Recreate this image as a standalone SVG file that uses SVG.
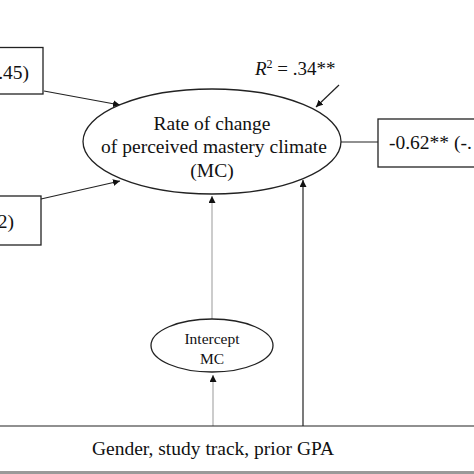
<svg xmlns="http://www.w3.org/2000/svg" width="474" height="474" viewBox="0 0 474 474">
<style>
text{font-family:"Liberation Serif","Times New Roman",serif;fill:#111}
.box{fill:#fff;stroke:#222;stroke-width:1.3}
.ell{fill:#fff;stroke:#222;stroke-width:1.3}
.ln{stroke:#222;stroke-width:1.2;fill:none}
.gl{stroke:#999;stroke-width:1;fill:none}
.big{font-size:19.5px}
</style>
<defs>
<marker id="ah" viewBox="0 0 10 10" refX="10" refY="5" markerWidth="7" markerHeight="7" orient="auto" markerUnits="userSpaceOnUse"><path d="M0,0 L10,5 L0,10 z" fill="#111"/></marker>
</defs>
<rect x="0" y="0" width="474" height="474" fill="#fff"/>
<g id="connectors">
<line class="ln" x1="44" y1="91" x2="120" y2="105" marker-end="url(#ah)"/>
<line class="ln" x1="41" y1="199" x2="120" y2="181" marker-end="url(#ah)"/>
<line class="ln" x1="339" y1="85" x2="316" y2="107" marker-end="url(#ah)"/>
<line class="ln" x1="341" y1="142" x2="378" y2="142"/>
<line class="gl" x1="212" y1="319" x2="212" y2="196" marker-end="url(#ah)"/>
<line class="ln" x1="303" y1="426" x2="303" y2="180" marker-end="url(#ah)"/>
<line class="gl" x1="213" y1="426" x2="213" y2="375" marker-end="url(#ah)"/>
</g>
<g id="box-top-left">
<rect class="box" x="-10" y="47.5" width="53" height="46.5"/>
<text class="big" x="29" y="79" text-anchor="end">.45)</text>
</g>
<g id="box-bottom-left">
<rect class="box" x="-10" y="196" width="51" height="49"/>
<text class="big" x="14" y="228" text-anchor="end">2)</text>
</g>
<g id="mc-rate">
<ellipse class="ell" cx="212" cy="141.5" rx="129" ry="52.5"/>
<text class="big" x="212" y="130" text-anchor="middle">Rate of change</text>
<text class="big" x="214" y="153" text-anchor="middle">of perceived mastery climate</text>
<text class="big" x="212" y="177" text-anchor="middle">(MC)</text>
</g>
<g id="r2">
<text x="255" y="75" font-size="19"><tspan font-style="italic">R</tspan><tspan font-size="12" dy="-7">2</tspan><tspan dy="7"> = .34**</tspan></text>
</g>
<g id="box-right">
<rect class="box" x="378" y="119" width="110" height="48"/>
<text class="big" x="389" y="149">-0.62** (-.</text>
</g>
<g id="intercept">
<ellipse class="ell" cx="212" cy="345.5" rx="61" ry="26.5"/>
<text x="212" y="344" font-size="15.5" text-anchor="middle">Intercept</text>
<text x="212" y="364" font-size="15.5" text-anchor="middle">MC</text>
</g>
<g id="covariates">
<line class="ln" x1="0" y1="426" x2="474" y2="426"/>
<text x="213" y="455" font-size="19.5" text-anchor="middle">Gender, study track, prior GPA</text>
<rect x="0" y="471" width="474" height="3" fill="#999"/>
</g>
</svg>
